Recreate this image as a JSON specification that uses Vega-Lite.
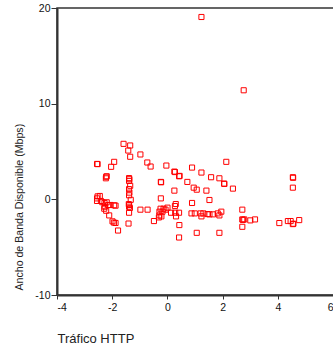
{
  "$schema": "https://vega.github.io/schema/vega-lite/v6.json",
  "width": 277,
  "height": 287,
  "autosize": {"type": "none"},
  "padding": {"left": 57, "top": 8, "right": 0, "bottom": 52},
  "background": "white",
  "config": {
    "font": "Liberation Sans",
    "view": {"stroke": "#333333", "strokeWidth": 1.5},
    "axis": {"grid": false, "domainColor": "#333333", "domainWidth": 2, "tickColor": "#333333", "tickSize": 4, "labelFontSize": 10.5, "labelColor": "#111111", "titleFontSize": 13, "titleFontWeight": "normal", "titleColor": "#222222", "labelPadding": 3, "labelExpr": "'' + datum.value"}
  },
  "data": {"values": [
    {"x": 1.23, "y": 19.06}, {"x": 2.76, "y": 11.4},
    {"x": -1.59, "y": 5.8}, {"x": -1.35, "y": 5.63}, {"x": -1.42, "y": 5.1}, {"x": -1.35, "y": 4.45},
    {"x": -0.98, "y": 4.69}, {"x": -2.55, "y": 3.7}, {"x": -2.53, "y": 3.68}, {"x": -1.93, "y": 3.92},
    {"x": -2.04, "y": 3.4}, {"x": -0.73, "y": 3.85}, {"x": -0.61, "y": 3.43}, {"x": -0.04, "y": 3.53},
    {"x": 0.89, "y": 3.32}, {"x": 2.13, "y": 3.92}, {"x": 0.25, "y": 2.9}, {"x": 0.27, "y": 2.85},
    {"x": 0.42, "y": 2.41}, {"x": 0.44, "y": 2.45}, {"x": 1.23, "y": 2.8}, {"x": 1.58, "y": 2.31},
    {"x": 1.88, "y": 2.2}, {"x": -2.2, "y": 2.41}, {"x": -2.22, "y": 2.36}, {"x": -2.23, "y": 2.2},
    {"x": -1.39, "y": 2.22}, {"x": -1.38, "y": 2.1}, {"x": -1.39, "y": 1.92}, {"x": -0.24, "y": 1.82},
    {"x": -0.23, "y": 1.78}, {"x": 0.72, "y": 1.82}, {"x": 2.06, "y": 1.61}, {"x": 2.05, "y": 1.65},
    {"x": 4.54, "y": 2.31}, {"x": 4.55, "y": 2.25}, {"x": -1.35, "y": 1.42}, {"x": 0.95, "y": 1.22},
    {"x": 1.06, "y": 1.01}, {"x": 1.41, "y": 0.91}, {"x": 2.37, "y": 1.12}, {"x": 4.54, "y": 1.22},
    {"x": 0.25, "y": 0.91}, {"x": -1.39, "y": 1.07}, {"x": -1.38, "y": 0.7}, {"x": -1.39, "y": 0.42},
    {"x": -2.53, "y": 0.31}, {"x": -2.45, "y": 0.35}, {"x": -2.55, "y": 0.1}, {"x": -2.55, "y": -0.17},
    {"x": -0.24, "y": 0.1}, {"x": -1.33, "y": -0.05}, {"x": 1.52, "y": -0.07}, {"x": -2.41, "y": -0.17},
    {"x": -2.36, "y": -0.3}, {"x": -2.28, "y": -0.38}, {"x": -2.2, "y": -0.31}, {"x": 0.89, "y": -0.38},
    {"x": -2.07, "y": -0.59}, {"x": -1.93, "y": -0.62}, {"x": -1.88, "y": -0.66}, {"x": -2.27, "y": -0.77},
    {"x": -2.15, "y": -0.6}, {"x": -1.39, "y": -0.59}, {"x": -1.39, "y": -0.77}, {"x": -1.36, "y": -0.9},
    {"x": -1.4, "y": -0.5}, {"x": 0.3, "y": -0.49}, {"x": 0.27, "y": -0.7}, {"x": -2.29, "y": -0.98},
    {"x": -2.22, "y": -1.19}, {"x": -2.11, "y": -1.68}, {"x": -1.39, "y": -1.4}, {"x": -0.98, "y": -1.08},
    {"x": -0.72, "y": -1.08}, {"x": -0.25, "y": -0.98}, {"x": -0.14, "y": -0.98}, {"x": 0.0, "y": -0.87},
    {"x": -0.07, "y": -1.08}, {"x": -0.29, "y": -1.29}, {"x": -0.18, "y": -1.29}, {"x": -0.29, "y": -1.68},
    {"x": -0.22, "y": -1.78}, {"x": -0.31, "y": -1.89}, {"x": 0.13, "y": -1.4}, {"x": 0.28, "y": -1.4},
    {"x": 0.42, "y": -1.4}, {"x": 0.31, "y": -1.78}, {"x": 0.87, "y": -1.47}, {"x": 0.99, "y": -1.47},
    {"x": 1.2, "y": -1.47}, {"x": 1.3, "y": -1.47}, {"x": 1.45, "y": -1.54}, {"x": 1.52, "y": -1.57},
    {"x": 1.23, "y": -1.78}, {"x": 1.65, "y": -1.57}, {"x": 1.82, "y": -1.47}, {"x": 1.88, "y": -1.68},
    {"x": 1.95, "y": -1.29}, {"x": 2.71, "y": -1.08}, {"x": 2.71, "y": -2.1}, {"x": 2.73, "y": -2.15},
    {"x": 2.78, "y": -2.1}, {"x": 3.0, "y": -2.2}, {"x": 3.17, "y": -2.1}, {"x": 2.71, "y": -2.87},
    {"x": 4.05, "y": -2.48}, {"x": 4.36, "y": -2.27}, {"x": 4.46, "y": -2.27}, {"x": 4.54, "y": -2.59},
    {"x": 4.56, "y": -2.55}, {"x": 4.77, "y": -2.17}, {"x": -1.99, "y": -2.3}, {"x": -1.94, "y": -2.43},
    {"x": -1.88, "y": -2.47}, {"x": -1.79, "y": -3.26}, {"x": -1.41, "y": -2.53}, {"x": -0.49, "y": -2.27},
    {"x": 0.43, "y": -2.69}, {"x": 0.42, "y": -3.99}, {"x": 1.06, "y": -3.5}, {"x": 1.88, "y": -3.5}
  ]},
  "mark": {"type": "point", "shape": "square", "filled": false, "size": 26, "stroke": "#ff0000", "strokeWidth": 1, "opacity": 1},
  "encoding": {
    "x": {"field": "x", "type": "quantitative", "scale": {"domain": [-4, 6.03], "nice": false, "zero": false},
      "axis": {"values": [-4, -2, 0, 2, 4, 6], "title": "Tráfico HTTP", "titleAnchor": "start", "titleAlign": "left", "titleX": 0, "titleY": 43, "titleBaseline": "middle"}},
    "y": {"field": "y", "type": "quantitative", "scale": {"domain": [-10, 20], "nice": false, "zero": false},
      "axis": {"values": [-10, 0, 10, 20], "title": "Ancho de Banda Disponible (Mbps)", "titleFontSize": 10.6, "titleAnchor": "start", "titleX": -38, "titleY": 282, "titleAlign": "left", "titleAngle": 270, "titleBaseline": "middle", "tickSize": 6, "labelPadding": 1}}
  }
}
